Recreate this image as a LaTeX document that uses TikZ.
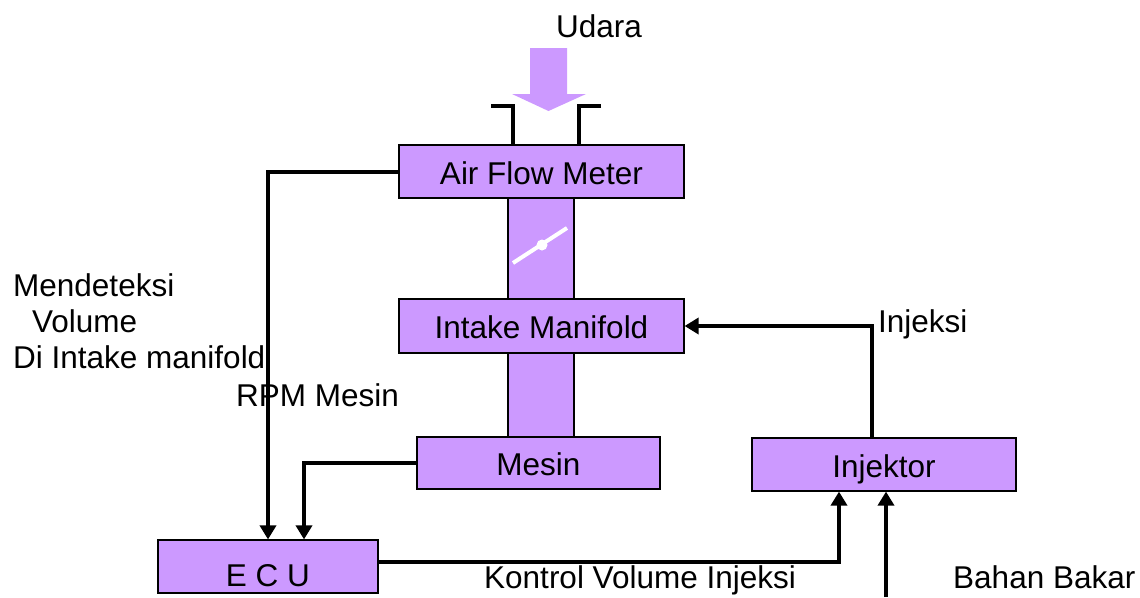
\documentclass[tikz,border=0pt]{standalone}
\usepackage{fontspec}
\setmainfont{Liberation Sans}
\usetikzlibrary{arrows.meta}
\definecolor{lilac}{HTML}{CC99FF}
\begin{document}
\begin{tikzpicture}[x=1pt,y=-1pt,
  box/.style={draw=black,line width=1.2pt,fill=lilac,inner sep=0pt,
    text height=25pt,text depth=0pt,font=\fontsize{31.5}{36}\selectfont},
  pipe/.style={draw=black,line width=1.2pt,fill=lilac},
  lbl/.style={anchor=base west,inner sep=0pt,font=\fontsize{31.5}{36}\selectfont},
  conn/.style={line width=4pt,-{Triangle[length=14pt,width=16pt]}},
  plain/.style={line width=4pt}]
\useasboundingbox (0,0) rectangle (1140,597);
% pipes
\draw[pipe] (508,198) rectangle (574,299);
\draw[pipe] (508,353) rectangle (574,437);
% boxes
\node[box,minimum width=285pt,minimum height=53pt] (afm) at (541.5,171.5) {Air Flow Meter};
\node[box,minimum width=285pt,minimum height=54pt] (im) at (541.5,326) {Intake Manifold};
\node[box,minimum width=243pt,minimum height=52pt] (mesin) at (538.5,463) {Mesin};
\node[box,minimum width=264pt,minimum height=53pt] (inj) at (884,464.5) {Injektor};
\node[box,minimum width=220pt,minimum height=53pt] (ecu) at (268,566.5) {\raisebox{-7pt}{E C U}};
% throttle valve
\draw[white,line width=4pt] (513,263) -- (567,228);
\fill[white] (542,245) circle (5.5);
% intake brackets
\draw[line width=3.5pt] (491,106) -| (513,144);
\draw[line width=3.5pt] (601,106) -| (579,144);
% Udara arrow
\fill[lilac] (530,48) -- (567,48) -- (567,94) -- (586,94) -- (548.5,111) -- (512,94) -- (530,94) -- cycle;
% connectors
\draw[conn] (afm.west) -| (ecu.north);
\draw[conn] (mesin.west) -| ([xshift=36pt]ecu.north);
\draw[conn] ([yshift=4.5pt]ecu.east) -| ([xshift=-45pt]inj.south);
\coordinate (fuel) at (886,597);
\draw[conn] (fuel) -- (fuel |- inj.south);
\draw[conn] ([xshift=-12pt]inj.north) |- (im.east);
% labels
\node[lbl] (udara) at (556,37) {Udara};
\node[lbl] (l1) at (13,296) {Mendeteksi};
\node[lbl] (l2) at (32,332) {Volume};
\node[lbl] (l3) at (13,368) {Di Intake manifold};
\node[lbl] (rpm) at (236,406) {RPM Mesin};
\node[lbl] (injeksi) at (878,332) {Injeksi};
\node[lbl] (kontrol) at (484,588) {Kontrol Volume Injeksi};
\node[lbl] (bahan) at (953,588) {Bahan Bakar};
\end{tikzpicture}
\end{document}
